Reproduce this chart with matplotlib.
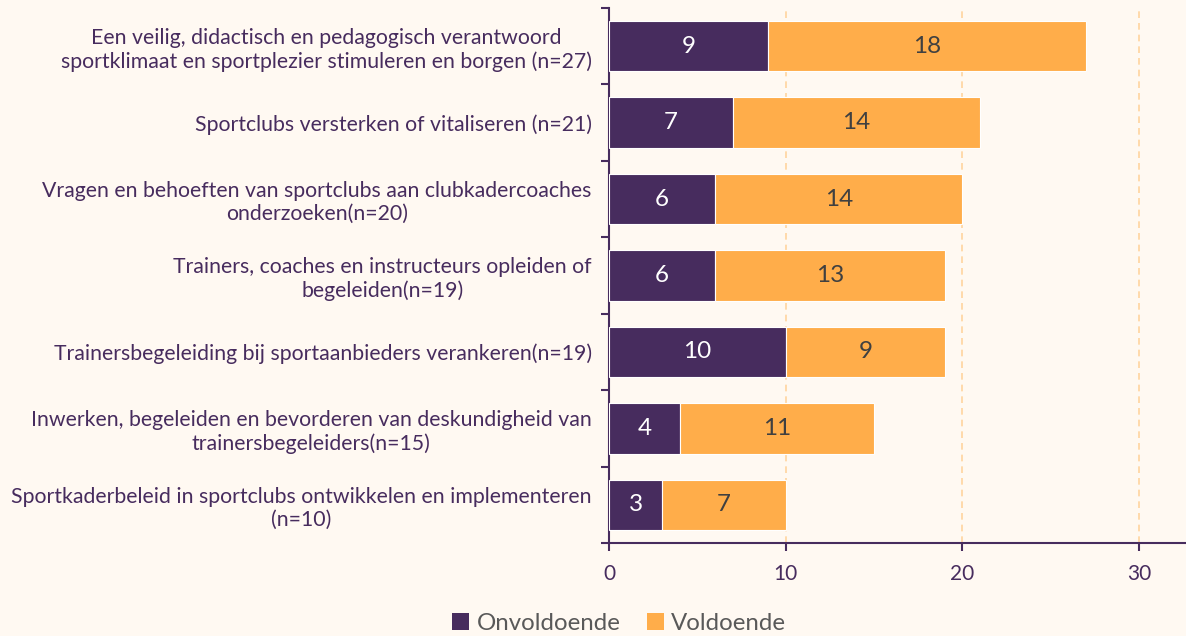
import matplotlib
matplotlib.use("Agg")
import matplotlib.pyplot as plt
import numpy as np

categories = [
    "Een veilig, didactisch en pedagogisch verantwoord\nsportklimaat en sportplezier stimuleren en borgen (n=27)",
    "Sportclubs versterken of vitaliseren (n=21)",
    "Vragen en behoeften van sportclubs aan clubkadercoaches\nonderzoeken(n=20)",
    "Trainers, coaches en instructeurs opleiden of\nbegeleiden(n=19)",
    "Trainersbegeleiding bij sportaanbieders verankeren(n=19)",
    "Inwerken, begeleiden en bevorderen van deskundigheid van\ntrainersbegeleiders(n=15)",
    "Sportkaderbeleid in sportclubs ontwikkelen en implementeren\n(n=10)",
]
onvoldoende = [9, 7, 6, 6, 10, 4, 3]
voldoende = [18, 14, 14, 13, 9, 11, 7]
series_names = ["Onvoldoende", "Voldoende"]
xticks = [0, 10, 20, 30]

BG = "#FFF9F2"
PURPLE = "#472C5E"
ORANGE = "#FFAD4A"
TEXT = "#472C5E"

plt.rcParams['font.family'] = ['Lato', 'DejaVu Sans']

fig = plt.figure(figsize=(11.86, 6.36), dpi=100, facecolor=BG)
ax = fig.add_axes([0.5135, 0.1462, 0.4865, 0.8412], facecolor=BG)

y = np.arange(len(categories))
h = 0.66
b1 = ax.barh(y, onvoldoende, height=h, color=PURPLE, edgecolor="white", linewidth=0.8,
             label=series_names[0], zorder=3)
b2 = ax.barh(y, voldoende, left=onvoldoende, height=h, color=ORANGE, edgecolor="white",
             linewidth=0.8, label=series_names[1], zorder=3)

for rect, v in zip(b1, onvoldoende):
    ax.text(rect.get_x() + rect.get_width() / 2, rect.get_y() + rect.get_height() / 2,
            str(v), ha="center", va="center", color="white", fontsize=17.5, zorder=4)
for rect, v in zip(b2, voldoende):
    ax.text(rect.get_x() + rect.get_width() / 2, rect.get_y() + rect.get_height() / 2,
            str(v), ha="center", va="center", color="#404040", fontsize=17.5, zorder=4)

ax.set_ylim(len(categories) - 0.5, -0.5)
ax.set_xlim(0, 32.65)

ax.set_yticks(y)
ax.set_yticklabels(categories, fontsize=15.3, color=TEXT, ha="right", multialignment="center")
ax.tick_params(axis="y", which="major", length=0, pad=12.5)
ax.set_yticks(np.arange(-0.5, len(categories), 1.0), minor=True)
ax.tick_params(axis="y", which="minor", length=6, width=1.5, color=PURPLE, direction="out")

ax.set_xticks(xticks)
ax.set_xticklabels([str(t) for t in xticks], fontsize=15, color=TEXT)
ax.tick_params(axis="x", length=6, width=1.5, color=PURPLE, pad=9)

ax.xaxis.grid(True, color="#FFD49E", linestyle=(0, (4, 3)), linewidth=1.2, zorder=0)
ax.set_axisbelow(True)

for s in ["top", "right"]:
    ax.spines[s].set_visible(False)
for s in ["left", "bottom"]:
    ax.spines[s].set_color(PURPLE)
    ax.spines[s].set_linewidth(1.5)

leg = fig.legend(handles=[b1, b2], labels=series_names, loc="center",
                 bbox_to_anchor=(0.522, 0.02), ncol=2, frameon=False, fontsize=17.3,
                 handlelength=0.7, handleheight=0.7, handletextpad=0.3, columnspacing=1.1)
for t in leg.get_texts():
    t.set_color("#595959")
for p in leg.legend_handles:
    p.set_edgecolor("none")

fig.savefig("out.png", dpi=100, facecolor=BG)
